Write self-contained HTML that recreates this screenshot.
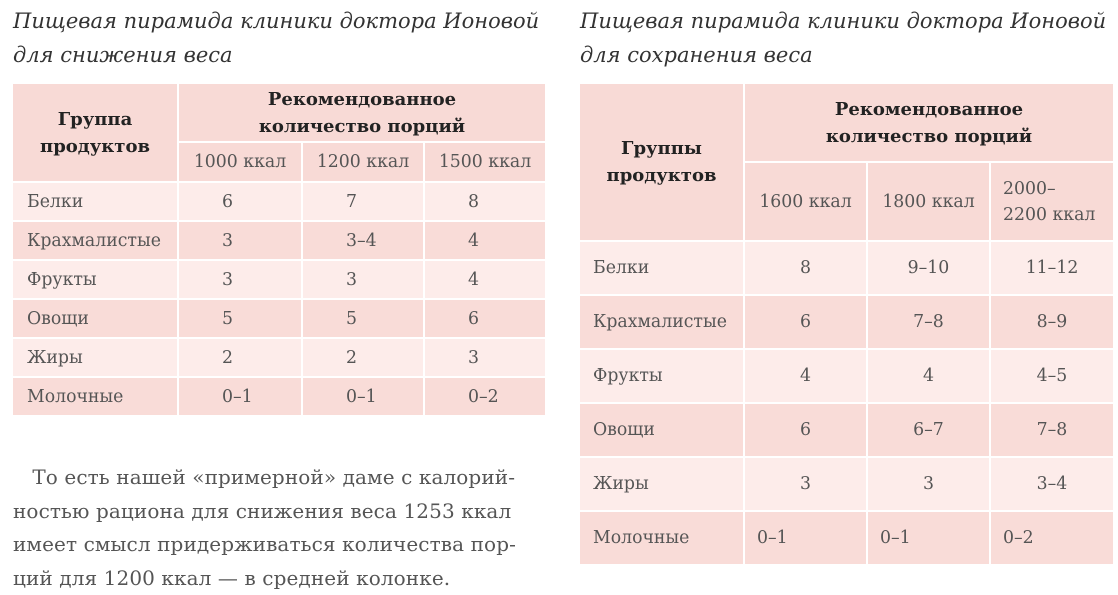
<!DOCTYPE html>
<html><head><meta charset="utf-8"><style>
body{margin:0;width:1118px;height:591px;background:#fff;position:relative;overflow:hidden;font-family:"DejaVu Serif","Liberation Serif",serif;color:#444}
.c{position:absolute;display:flex;align-items:center;box-sizing:border-box;font-size:17.3px;color:#555;white-space:nowrap}
.h{background:#f8dad6}
.l{background:#fdecea}
.d{background:#f9dcd8}
.b{font-weight:bold;color:#222;font-size:18px;justify-content:center;text-align:center;line-height:27px}
.ctr{justify-content:center}
.lab{padding-left:14px}
.t{position:absolute;font-style:italic;font-size:21px;color:#333;line-height:34px;white-space:nowrap}
.p{position:absolute;left:13px;top:461px;font-size:20px;line-height:33.5px;color:#555;width:560px;white-space:nowrap;letter-spacing:0.1px}
</style></head><body>
<div class="t" style="left:13px;top:4px">Пищевая пирамида клиники доктора Ионовой<br>для снижения веса</div>
<div class="t" style="left:580px;top:4px">Пищевая пирамида клиники доктора Ионовой<br>для сохранения веса</div>

<div class="c h b" style="left:13px;top:84px;width:164px;height:97px">Группа<br>продуктов</div>
<div class="c h b" style="left:179px;top:84px;width:366px;height:57px">Рекомендованное<br>количество порций</div>
<div class="c h ctr" style="left:179px;top:143px;width:122px;height:38px">1000 ккал</div>
<div class="c h ctr" style="left:303px;top:143px;width:120px;height:38px">1200 ккал</div>
<div class="c h ctr" style="left:425px;top:143px;width:120px;height:38px">1500 ккал</div>
<div id="L"></div>

<div class="c h b" style="left:580px;top:84px;width:163px;height:156px">Группы<br>продуктов</div>
<div class="c h b" style="left:745px;top:84px;width:368px;height:77px">Рекомендованное<br>количество порций</div>
<div class="c h ctr" style="left:745px;top:163px;width:121px;height:77px">1600 ккал</div>
<div class="c h ctr" style="left:868px;top:163px;width:121px;height:77px">1800 ккал</div>
<div class="c h" style="left:991px;top:163px;width:122px;height:77px;padding-left:12px;line-height:26px">2000–<br>2200 ккал</div>
<div id="R"></div>

<div class="p">&nbsp;&nbsp;&nbsp;То есть нашей «примерной» даме с калорий-<br>ностью рациона для снижения веса 1253 ккал<br>имеет смысл придерживаться количества пор-<br>ций для 1200 ккал — в средней колонке.</div>
<script>
var L=[["Белки","6","7","8"],["Крахмалистые","3","3–4","4"],["Фрукты","3","3","4"],["Овощи","5","5","6"],["Жиры","2","2","3"],["Молочные","0–1","0–1","0–2"]];
var R=[["Белки","8","9–10","11–12"],["Крахмалистые","6","7–8","8–9"],["Фрукты","4","4","4–5"],["Овощи","6","6–7","7–8"],["Жиры","3","3","3–4"],["Молочные","0–1","0–1","0–2"]];
var h="";
L.forEach(function(r,i){var y=183+i*39,cl=i%2?"d":"l";
h+='<div class="c '+cl+' lab" style="left:13px;top:'+y+'px;width:164px;height:37px">'+r[0]+'</div>';
[[179,122],[303,120],[425,120]].forEach(function(c,j){h+='<div class="c '+cl+'" style="left:'+c[0]+'px;top:'+y+'px;width:'+c[1]+'px;height:37px;padding-left:43px">'+r[j+1]+'</div>';});});
document.getElementById("L").outerHTML=h;h="";
R.forEach(function(r,i){var y=242+i*54,cl=i%2?"d":"l";
h+='<div class="c '+cl+' lab" style="left:580px;top:'+y+'px;width:163px;height:52px;padding-left:13px">'+r[0]+'</div>';
[[745,121],[868,121],[991,122]].forEach(function(c,j){var st=i==5?'padding-left:12px':'justify-content:center';h+='<div class="c '+cl+'" style="left:'+c[0]+'px;top:'+y+'px;width:'+c[1]+'px;height:52px;'+st+'">'+r[j+1]+'</div>';});});
document.getElementById("R").outerHTML=h;
</script>
</body></html>
